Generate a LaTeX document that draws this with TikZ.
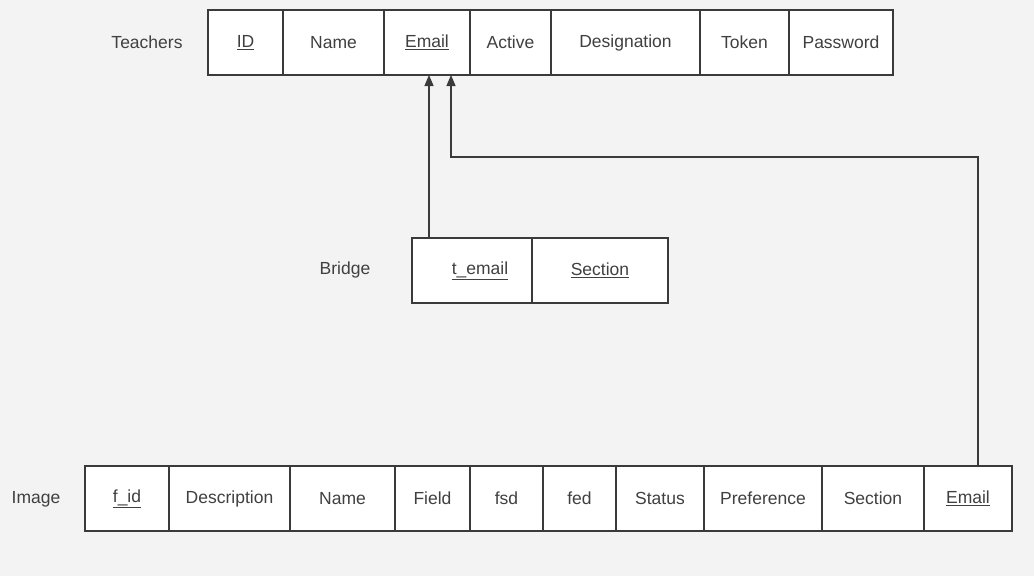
\documentclass[tikz,border=0pt]{standalone}
\usepackage{fontspec}
\setmainfont{Liberation Sans}
\usetikzlibrary{arrows.meta}
\definecolor{bgc}{HTML}{F3F3F3}
\definecolor{linec}{HTML}{3A3A3A}
\definecolor{txtc}{HTML}{404040}
\tikzset{
  cell/.style={draw=linec, fill=white, line width=1.3pt, rectangle, inner sep=0pt, outer sep=0pt,
    minimum height=65pt, text=txtc, font=\fontsize{17.5}{21}\selectfont},
  lbl/.style={text=txtc, inner sep=0pt, font=\fontsize{17.5}{21}\selectfont},
  conn/.style={draw=linec, line width=1.3pt, -{Triangle[length=11pt,width=9pt]}}
}
\begin{document}
\begin{tikzpicture}[x=1pt,y=-1pt]
\useasboundingbox (0,0) rectangle (1034,576);
\fill[bgc] (0,0) rectangle (1034,576);
% Teachers
\node[lbl] (lt) at (147,42) {Teachers};
\node[cell, minimum width=75pt] (tID) at (245.5,42.5) {\underline{ID}};
\node[cell, minimum width=101pt] (tName) at (333.5,42.5) {Name};
\node[cell, minimum width=86pt] (tEmail) at (427,42.5) {\underline{Email}};
\node[cell, minimum width=81pt] (tActive) at (510.5,42.5) {Active};
\node[cell, minimum width=149pt] (tDes) at (625.5,42.5) {Designation};
\node[cell, minimum width=89pt] (tTok) at (744.5,42.5) {Token};
\node[cell, minimum width=104pt] (tPw) at (841,42.5) {Password};
% Bridge
\node[lbl] (lb) at (345,270) {Bridge};
\node[cell, minimum width=120pt, text width=120pt, align=center] (bEmail) at (472,270.5) {\hspace*{16pt}\underline{t\_email}};
\node[cell, minimum width=136pt] (bSec) at (600,270.5) {\underline{Section}};
% Image
\node[lbl] (li) at (36,499) {Image};
\node[cell, minimum width=84pt] (iID) at (127,498.5) {\underline{f\_id}};
\node[cell, minimum width=121pt] (iDesc) at (229.5,498.5) {Description};
\node[cell, minimum width=105pt] (iName) at (342.5,498.5) {Name};
\node[cell, minimum width=75pt] (iField) at (432.5,498.5) {Field};
\node[cell, minimum width=73pt] (iFsd) at (506.5,498.5) {fsd};
\node[cell, minimum width=73pt] (iFed) at (579.5,498.5) {fed};
\node[cell, minimum width=88pt] (iStat) at (660,498.5) {Status};
\node[cell, minimum width=118pt] (iPref) at (763,498.5) {Preference};
\node[cell, minimum width=102pt] (iSec) at (873,498.5) {Section};
\node[cell, minimum width=88pt] (iEmail) at (968,498.5) {\underline{Email}};
% connectors
\coordinate (bTop) at ([xshift=17pt]bEmail.north west);
\coordinate (iTop) at ([xshift=10pt]iEmail.north);
\coordinate (bend1) at (978,157);
\coordinate (bend2) at (451,157);
\draw[conn] (bTop) -- (bTop |- tEmail.south);
\draw[conn] (iTop) -- (bend1) -- (bend2) -- (bend2 |- tEmail.south);
\end{tikzpicture}
\end{document}
